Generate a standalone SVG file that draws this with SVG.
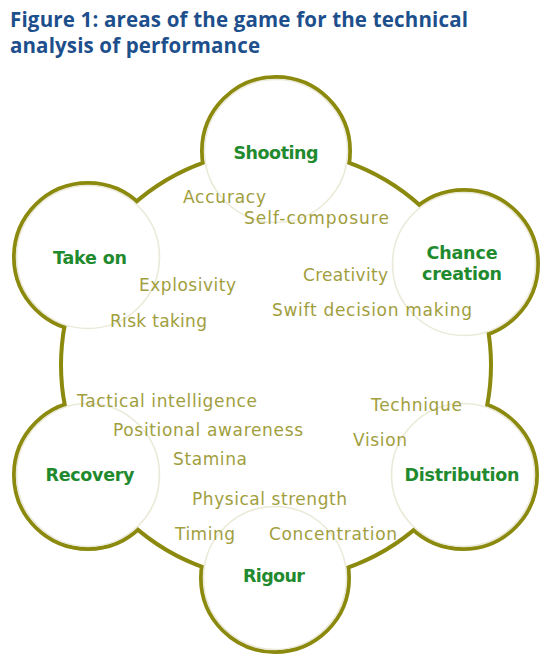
<svg xmlns="http://www.w3.org/2000/svg" width="550" height="664" viewBox="0 0 550 664">
<style>
.title{font-family:"Open Sans","Liberation Sans",sans-serif;font-weight:700;font-size:20.5px;fill:#1d4f8c}
.ol{fill:none;stroke:#8b8a0e;stroke-width:8}
.wf{fill:#ffffff;stroke:none}
.lt{fill:none;stroke:#ebead9;stroke-width:1.6}
.lbl{font-family:"DejaVu Sans","Open Sans",sans-serif;font-weight:700;font-size:17.5px;fill:#1f8a2e;text-anchor:middle}
.att{font-family:"DejaVu Sans","Open Sans",sans-serif;font-size:17px;fill:#a19e3e}
</style>
<rect width="550" height="664" fill="#ffffff"/>
<text class="title" x="10" y="27" textLength="458" lengthAdjust="spacing">Figure 1: areas of the game for the technical</text>
<text class="title" x="10" y="53" textLength="250" lengthAdjust="spacing">analysis of performance</text>
<g id="outline">
<circle class="ol" cx="276" cy="365" r="213"/>
<circle class="ol" cx="276" cy="151" r="72"/>
<circle class="ol" cx="464" cy="264" r="72"/>
<circle class="ol" cx="463" cy="475" r="72"/>
<circle class="ol" cx="275" cy="578" r="72"/>
<circle class="ol" cx="88" cy="475" r="72"/>
<circle class="ol" cx="88" cy="257" r="72"/>
</g>
<g id="connectors">
<circle class="wf" cx="276" cy="365" r="213"/>
</g>
<g id="shooting"><circle class="wf" cx="276" cy="151" r="72"/><circle class="lt" cx="276" cy="151" r="71.5"/><text class="lbl" x="276" y="159" textLength="85" lengthAdjust="spacing">Shooting</text></g>
<g id="chance-creation"><circle class="wf" cx="464" cy="264" r="72"/><circle class="lt" cx="464" cy="264" r="71.5"/><text class="lbl" x="462" y="259" textLength="71" lengthAdjust="spacing">Chance</text><text class="lbl" x="462" y="280" textLength="80" lengthAdjust="spacing">creation</text></g>
<g id="distribution"><circle class="wf" cx="463" cy="475" r="72"/><circle class="lt" cx="463" cy="475" r="71.5"/><text class="lbl" x="462" y="481" textLength="115" lengthAdjust="spacing">Distribution</text></g>
<g id="rigour"><circle class="wf" cx="275" cy="578" r="72"/><circle class="lt" cx="275" cy="578" r="71.5"/><text class="lbl" x="274" y="582" textLength="62" lengthAdjust="spacing">Rigour</text></g>
<g id="recovery"><circle class="wf" cx="88" cy="475" r="72"/><circle class="lt" cx="88" cy="475" r="71.5"/><text class="lbl" x="90" y="481" textLength="89" lengthAdjust="spacing">Recovery</text></g>
<g id="take-on"><circle class="wf" cx="88" cy="257" r="72"/><circle class="lt" cx="88" cy="257" r="71.5"/><text class="lbl" x="90" y="264" textLength="74" lengthAdjust="spacing">Take on</text></g>
<g id="attributes">
<text class="att" x="183" y="203" textLength="83" lengthAdjust="spacing">Accuracy</text>
<text class="att" x="244" y="224" textLength="145" lengthAdjust="spacing">Self-composure</text>
<text class="att" x="303" y="281" textLength="85" lengthAdjust="spacing">Creativity</text>
<text class="att" x="272" y="316" textLength="200" lengthAdjust="spacing">Swift decision making</text>
<text class="att" x="139" y="291" textLength="97" lengthAdjust="spacing">Explosivity</text>
<text class="att" x="110" y="327" textLength="97" lengthAdjust="spacing">Risk taking</text>
<text class="att" x="77" y="407" textLength="180" lengthAdjust="spacing">Tactical intelligence</text>
<text class="att" x="113" y="436" textLength="190" lengthAdjust="spacing">Positional awareness</text>
<text class="att" x="173" y="465" textLength="74" lengthAdjust="spacing">Stamina</text>
<text class="att" x="192" y="505" textLength="155" lengthAdjust="spacing">Physical strength</text>
<text class="att" x="175" y="540" textLength="60" lengthAdjust="spacing">Timing</text>
<text class="att" x="269" y="540" textLength="128" lengthAdjust="spacing">Concentration</text>
<text class="att" x="371" y="411" textLength="91" lengthAdjust="spacing">Technique</text>
<text class="att" x="353" y="446" textLength="54" lengthAdjust="spacing">Vision</text>
</g>
</svg>
